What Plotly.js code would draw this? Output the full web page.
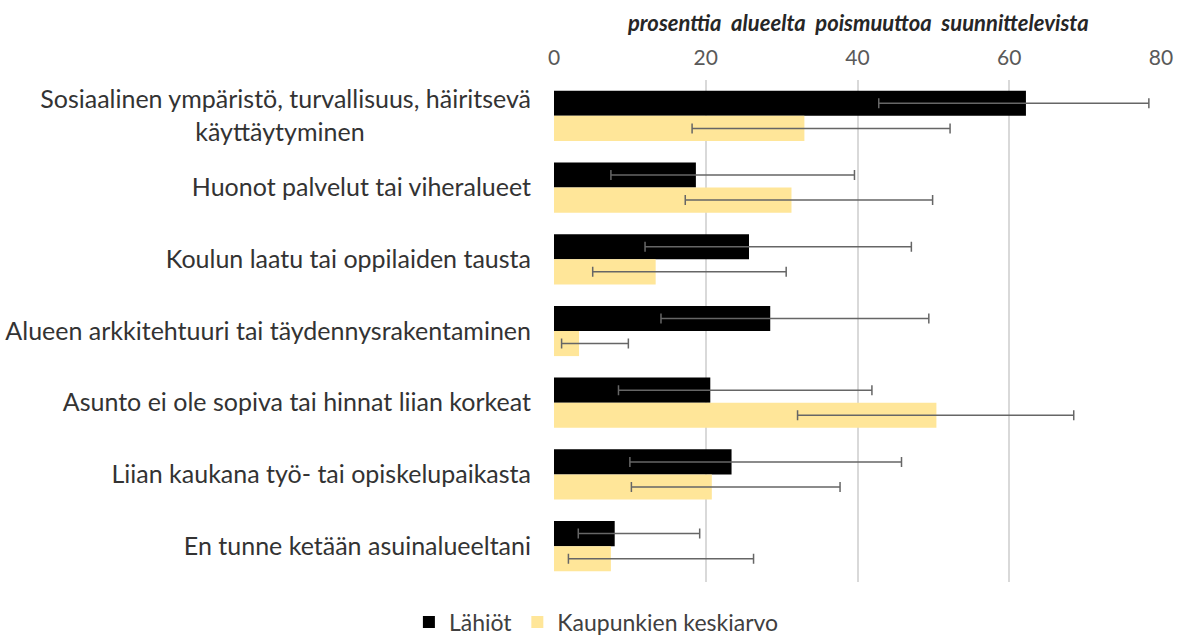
<!DOCTYPE html>
<html><head><meta charset="utf-8">
<script src="https://cdn.plot.ly/plotly-3.0.1.min.js"></script>
<style>html,body{margin:0;padding:0;background:#fff}#chart{width:1181px;height:636px}</style>
</head><body><div id="chart"></div>
<script>
const pad = '&nbsp;'.repeat(26);
const categories = [
  "Sosiaalinen ympäristö, turvallisuus, häiritsevä<br>käyttäytyminen" + pad,
  "Huonot palvelut tai viheralueet",
  "Koulun laatu tai oppilaiden tausta",
  "Alueen arkkitehtuuri tai täydennysrakentaminen",
  "Asunto ei ole sopiva tai hinnat liian korkeat",
  "Liian kaukana työ- tai opiskelupaikasta",
  "En tunne ketään asuinalueeltani"
];
const lahiotValues = [62.2, 18.7, 25.7, 28.5, 20.6, 23.4, 8.0];
const lahiotLow    = [42.8, 7.5, 12.0, 14.1, 8.5, 10.0, 3.2];
const lahiotHigh   = [78.4, 39.6, 47.1, 49.4, 41.9, 45.8, 19.2];
const kaupValues   = [33.0, 31.3, 13.4, 3.3, 50.4, 20.8, 7.5];
const kaupLow      = [18.2, 17.3, 5.1, 1.0, 32.1, 10.2, 1.9];
const kaupHigh     = [52.2, 49.9, 30.6, 9.8, 68.5, 37.7, 26.3];
const seriesNames  = ["Lähiöt", "Kaupunkien keskiarvo"];
const axisTitle    = "prosenttia&nbsp; alueelta&nbsp; poismuuttoa&nbsp; suunnittelevista";
const tickVals     = [0, 20, 40, 60, 80];

const errCfg = (v, lo, hi) => ({
  type: 'data', symmetric: false,
  array: hi.map((h, i) => h - v[i]),
  arrayminus: v.map((x, i) => x - lo[i]),
  color: '#666666', thickness: 1.5, width: 5
});

const traces = [
  {type: 'bar', orientation: 'h', name: seriesNames[0], y: categories, x: lahiotValues,
   marker: {color: '#000000'}, error_x: errCfg(lahiotValues, lahiotLow, lahiotHigh)},
  {type: 'bar', orientation: 'h', name: seriesNames[1], y: categories, x: kaupValues,
   marker: {color: '#ffe699'}, error_x: errCfg(kaupValues, kaupLow, kaupHigh)}
];

const layout = {
  width: 1181, height: 636,
  margin: {l: 554, r: 20, t: 80, b: 54},
  paper_bgcolor: '#fff', plot_bgcolor: '#fff',
  font: {family: 'Lato, "Open Sans", sans-serif', color: '#404040'},
  barmode: 'group', bargap: 0.30, bargroupgap: 0,
  xaxis: {side: 'top', range: [0, 80], tickvals: tickVals, showgrid: true,
          gridcolor: '#d9d9d9', gridwidth: 1.5, zeroline: false, showline: false,
          ticks: '', ticklen: 0, ticklabelstandoff: 10, tickfont: {size: 21, color: '#595959'}},
  yaxis: {autorange: 'reversed', type: 'category', showgrid: false, zeroline: false,
          ticks: '', ticklabelstandoff: 22, tickfont: {size: 25, color: '#333333'}},
  showlegend: true,
  legend: {orientation: 'h', xref: 'container', x: 0.505, xanchor: 'center',
           yref: 'container', y: 0.022, yanchor: 'middle',
           font: {size: 23, color: '#404040'}, traceorder: 'normal', itemwidth: 30},
  annotations: [{text: '<b><i>' + axisTitle + '</i></b>', xref: 'paper', yref: 'paper',
                 x: 0.5, y: 1, yshift: 58, showarrow: false, xanchor: 'center', yanchor: 'middle',
                 font: {size: 22, color: '#262626'}}]
};
Plotly.newPlot('chart', traces, layout, {displayModeBar: false});
</script></body></html>
